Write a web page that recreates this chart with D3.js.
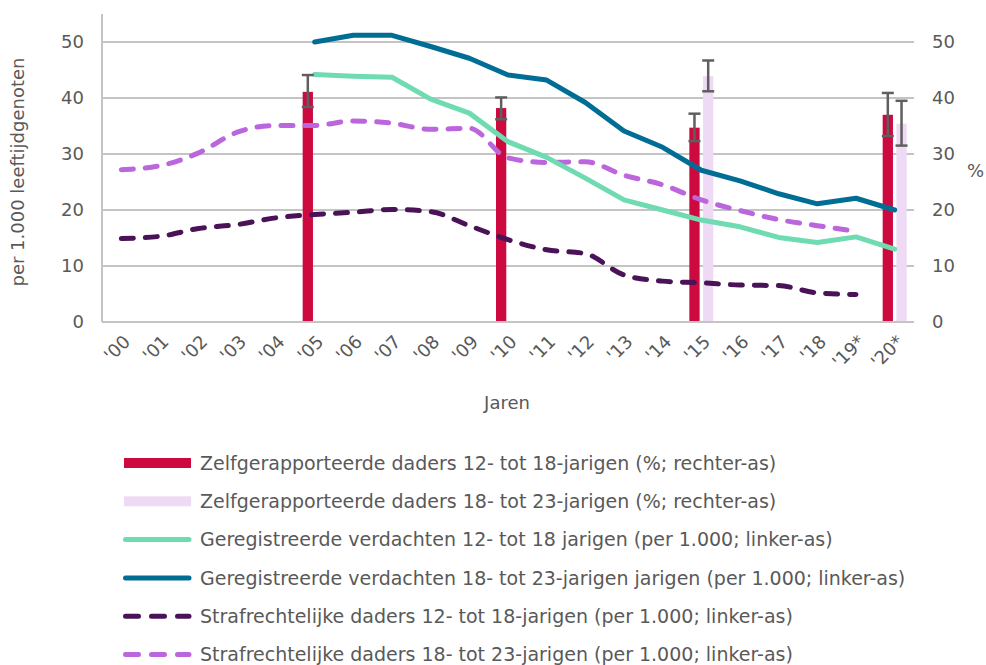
<!DOCTYPE html>
<html>
<head>
<meta charset="utf-8">
<script src="https://cdn.jsdelivr.net/npm/d3@7"></script>
<style>
  body { margin: 0; background: #fff; }
  text { font-family: "DejaVu Sans", Verdana, sans-serif; fill: #595959; }
</style>
</head>
<body>
<div id="chart"></div>
<script>
// categories
const years = ["'00","'01","'02","'03","'04","'05","'06","'07","'08","'09","'10",
  "'11","'12","'13","'14","'15","'16","'17","'18","'19*","'20*"];

// self-reported (%), right axis
const selfYoung = { "'05": 41.1, "'10": 38.2, "'15": 34.7, "'20*": 37.0 };
const selfYoungLo = { "'05": 38.4, "'10": 36.2, "'15": 32.3, "'20*": 33.2 };
const selfYoungHi = { "'05": 44.1, "'10": 40.1, "'15": 37.2, "'20*": 40.9 };
const selfOld = { "'15": 43.9, "'20*": 35.4 };
const selfOldLo = { "'15": 41.2, "'20*": 31.5 };
const selfOldHi = { "'15": 46.7, "'20*": 39.5 };

// per 1.000, left axis
const suspectsYoung = [null,null,null,null,null,44.2,43.9,43.7,39.8,37.3,32.2,29.4,25.7,21.8,20.0,18.2,17.0,15.1,14.2,15.2,13.0];
const suspectsOld = [null,null,null,null,null,50.0,51.2,51.2,49.2,47.1,44.1,43.2,39.2,34.1,31.2,27.1,25.2,22.9,21.1,22.1,20.0];
const offendersYoung = [14.9,15.3,16.7,17.4,18.6,19.2,19.6,20.1,19.7,17.2,14.7,12.9,12.2,8.4,7.3,7.0,6.6,6.5,5.2,4.9,null];
const offendersOld = [27.2,27.9,30.2,33.9,35.1,35.1,35.9,35.5,34.4,34.6,29.3,28.5,28.6,26.2,24.5,21.8,19.9,18.3,17.2,16.2,null];

const leftTicks = [0, 10, 20, 30, 40, 50];

const legendItems = [
  { label: "Zelfgerapporteerde daders 12- tot 18-jarigen (%; rechter-as)", type: "bar", color: "#cc0a40" },
  { label: "Zelfgerapporteerde daders 18- tot 23-jarigen (%; rechter-as)", type: "bar", color: "#eedaf5" },
  { label: "Geregistreerde verdachten 12- tot 18 jarigen (per 1.000; linker-as)", type: "line", color: "#6fdbb0" },
  { label: "Geregistreerde verdachten 18- tot 23-jarigen jarigen (per 1.000; linker-as)", type: "line", color: "#006e94" },
  { label: "Strafrechtelijke daders 12- tot 18-jarigen (per 1.000; linker-as)", type: "dash", color: "#4a1257" },
  { label: "Strafrechtelijke daders 18- tot 23-jarigen (per 1.000; linker-as)", type: "dash", color: "#bb66dd" }
];

const W = 986, H = 665;
const svg = d3.select("#chart").append("svg").attr("width", W).attr("height", H);

const x = d3.scaleBand().domain(years).range([102, 914]).padding(0);
const y = d3.scaleLinear().domain([0, 55]).range([322, 14]);
const yR = d3.scaleLinear().domain([0, 55]).range([322, 14]);
const inner = d3.scaleBand().domain(["young", "old"]).range([-12, 12]).paddingInner(0.25);
const cx = d => x(d) + x.bandwidth() / 2;

// gridlines
svg.append("g").selectAll("line").data(leftTicks).join("line")
  .attr("x1", 102).attr("x2", 914)
  .attr("y1", d => y(d)).attr("y2", d => y(d))
  .attr("stroke", "#c4c4c4").attr("stroke-width", 2);

// left axis line
svg.append("line").attr("x1", 102).attr("x2", 102).attr("y1", 14).attr("y2", 322)
  .attr("stroke", "#c4c4c4").attr("stroke-width", 2);

// left tick labels
svg.append("g").selectAll("text").data(leftTicks).join("text")
  .attr("x", 84).attr("y", d => y(d)).attr("dy", "0.36em")
  .attr("text-anchor", "end").style("font-size", "18px").text(d => d);

// right tick labels
svg.append("g").selectAll("text").data(leftTicks).join("text")
  .attr("x", 932).attr("y", d => yR(d)).attr("dy", "0.36em")
  .attr("text-anchor", "start").style("font-size", "18px").text(d => d);

svg.append("text").attr("x", 967).attr("y", 171).attr("dy", "0.36em")
  .style("font-size", "18px").text("%");

svg.append("text")
  .attr("transform", `translate(24,${(14 + 322) / 2 + 4}) rotate(-90)`)
  .attr("text-anchor", "middle").style("font-size", "18px")
  .text("per 1.000 leeftijdgenoten");

// x labels
svg.append("g").selectAll("text").data(years).join("text")
  .attr("transform", d => `translate(${cx(d) + 1},334) rotate(-45)`)
  .attr("text-anchor", "end").attr("dy", "0.7em")
  .style("font-size", "18px").text(d => d);

svg.append("text").attr("x", 507).attr("y", 409).attr("text-anchor", "middle")
  .style("font-size", "18px").text("Jaren");

// bars
function drawBars(vals, lo, hi, key, color) {
  const ks = Object.keys(vals);
  const g = svg.append("g");
  g.selectAll("rect").data(ks).join("rect")
    .attr("x", d => cx(d) + inner(key))
    .attr("width", inner.bandwidth())
    .attr("y", d => yR(vals[d]))
    .attr("height", d => yR(0) - yR(vals[d]))
    .attr("fill", color);
  return () => {
    const e = svg.append("g").attr("stroke", "#5f5f5f").attr("stroke-width", 2.5);
    ks.forEach(d => {
      const m = cx(d) + inner(key) + inner.bandwidth() / 2;
      e.append("line").attr("x1", m).attr("x2", m).attr("y1", yR(lo[d])).attr("y2", yR(hi[d]));
      e.append("line").attr("x1", m - 6).attr("x2", m + 6).attr("y1", yR(lo[d])).attr("y2", yR(lo[d]));
      e.append("line").attr("x1", m - 6).attr("x2", m + 6).attr("y1", yR(hi[d])).attr("y2", yR(hi[d]));
    });
  };
}
const errYoung = drawBars(selfYoung, selfYoungLo, selfYoungHi, "young", "#cc0a40");
const errOld = drawBars(selfOld, selfOldLo, selfOldHi, "old", "#eedaf5");

// bottom axis line
svg.append("line").attr("x1", 102).attr("x2", 914).attr("y1", 322).attr("y2", 322)
  .attr("stroke", "#c4c4c4").attr("stroke-width", 2);

// lines
function drawLine(vals, color, dashed) {
  const pts = years.map((yr, i) => ({ yr, v: vals[i] })).filter(p => p.v != null);
  const line = d3.line().x(p => cx(p.yr)).y(p => y(p.v))
    .curve(dashed ? d3.curveMonotoneX : d3.curveLinear);
  svg.append("path").datum(pts)
    .attr("d", line).attr("fill", "none")
    .attr("stroke", color).attr("stroke-width", 5)
    .attr("stroke-linecap", "round").attr("stroke-linejoin", "round")
    .attr("stroke-dasharray", dashed ? "12 12" : null);
}
drawLine(offendersYoung, "#4a1257", true);
drawLine(offendersOld, "#bb66dd", true);
drawLine(suspectsYoung, "#6fdbb0", false);
drawLine(suspectsOld, "#006e94", false);

errYoung();
errOld();

// legend
const lg = svg.append("g");
legendItems.forEach((it, i) => {
  const yy = 463 + i * 38.3;
  if (it.type === "bar") {
    lg.append("rect").attr("x", 124).attr("y", yy - 5).attr("width", 67).attr("height", 10).attr("fill", it.color);
  } else {
    lg.append("line").attr("x1", 125.5).attr("x2", 189).attr("y1", yy).attr("y2", yy)
      .attr("stroke", it.color).attr("stroke-width", 5).attr("stroke-linecap", "round")
      .attr("stroke-dasharray", it.type === "dash" ? "13 13" : null);
  }
  lg.append("text").attr("x", 200).attr("y", yy).attr("dy", "0.36em")
    .style("font-size", "19px").text(it.label);
});
</script>
</body>
</html>
